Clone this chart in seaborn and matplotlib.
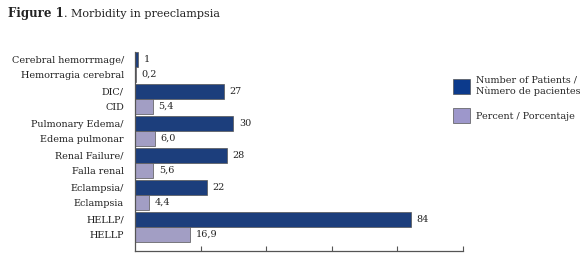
import matplotlib
matplotlib.use("Agg")
import matplotlib.pyplot as plt
import seaborn as sns
import pandas as pd
from matplotlib.patches import Patch

categories = ["Cerebral hemorrmage/\nHemorragia cerebral", "DIC/\nCID",
              "Pulmonary Edema/\nEdema pulmonar", "Renal Failure/\nFalla renal",
              "Eclampsia/\nEclampsia", "HELLP/\nHELLP"]
patients = [1, 27, 30, 28, 22, 84]
percent = [0.2, 5.4, 6.0, 5.6, 4.4, 16.9]
percent_labels = ["0,2", "5,4", "6,0", "5,6", "4,4", "16,9"]
series_names = ["Number of Patients /\nNùmero de pacientes", "Percent / Porcentaje"]
xticks = [20, 40, 60, 80, 100]

sns.set_theme(style="white")
plt.rcParams['font.family'] = ['DejaVu Serif']

df = pd.DataFrame({
    "cat": categories * 2,
    "val": patients + percent,
    "series": [series_names[0]] * len(categories) + [series_names[1]] * len(categories),
})

FS = 6.9
colors = ["#0c3a8c", "#9d97cb"]
fig = plt.figure(figsize=(5.8, 2.57), dpi=100)
ax = fig.add_axes([135 / 580, 1 - 251 / 257, (463 - 135) / 580, (251 - 52) / 257])
sns.barplot(data=df, y="cat", x="val", hue="series", orient="h", palette=colors,
            width=0.95, edgecolor="#555555", linewidth=0.5, legend=False, ax=ax,
            order=categories, hue_order=series_names)

ax.set_xlim(0, 100)
ax.set_ylim(5.75, -0.47)
ax.set_xlabel("")
ax.set_ylabel("")
ax.set_xticks(xticks)
ax.set_xticklabels([])
ax.tick_params(axis="x", direction="in", length=3.5, width=0.8, color="#555555", bottom=True)

# one tick label line per bar, centred on each bar
centers, lines = [], []
for ci, cont in enumerate(ax.containers):
    for cat, p in zip(categories, cont.patches):
        centers.append(p.get_y() + p.get_height() / 2)
        lines.append(cat.split("\n")[ci])
ax.set_yticks(centers)
ax.set_yticklabels(lines)
ax.tick_params(axis="y", length=0, pad=8, labelsize=FS, labelcolor="#222222")

for side in ["top", "right"]:
    ax.spines[side].set_visible(False)
for side in ["left", "bottom"]:
    ax.spines[side].set_color("#555555")
    ax.spines[side].set_linewidth(0.9)

labels_all = [[str(v) for v in patients], percent_labels]
for cont, labs in zip(ax.containers, labels_all):
    ax.bar_label(cont, labels=labs, padding=4, fontsize=FS, color="#222222")

handles = [Patch(facecolor=c, edgecolor="#555555", linewidth=0.5) for c in colors]
fig.legend(handles, series_names, loc="upper left", bbox_to_anchor=(449 / 580, 1 - 72 / 257),
           frameon=False, fontsize=FS, handlelength=1.8, handleheight=2.0,
           labelspacing=1.3, handletextpad=0.6, borderaxespad=0)

t1 = fig.text(8 / 580, 1 - 14 / 257, "Figure 1", fontsize=8.5, fontweight="bold",
              va="center", color="#222222")
fig.canvas.draw()
bb = t1.get_window_extent()
x_next = bb.x1 / fig.bbox.width
fig.text(x_next, 1 - 14 / 257, ". Morbidity in preeclampsia", fontsize=8, va="center",
         color="#222222")

fig.savefig("out.png", dpi=100)
